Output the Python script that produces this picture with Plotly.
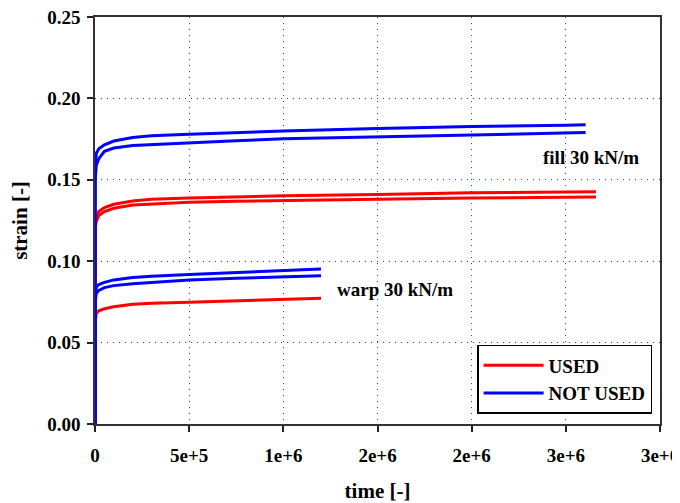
import plotly.graph_objects as go

# ---- data ----
t_fill = [0, 1e3, 7e3, 2e4, 5e4, 1e5, 2e5, 3e5, 5e5, 7.5e5, 1e6, 1.5e6, 2e6, 2.5e6]
fill_nu_a = [0, 0.155, 0.1663, 0.1690, 0.1715, 0.1738, 0.1760, 0.1770, 0.1780, 0.1790, 0.1800, 0.1815, 0.1828, 0.1835]
fill_nu_b = [0, 0.150, 0.1590, 0.1630, 0.1675, 0.1695, 0.1710, 0.1716, 0.1728, 0.1740, 0.1752, 0.1765, 0.1778, 0.1788]
t_fill_nu_end = 2.605e6
fill_nu_a_end = 0.1838
fill_nu_b_end = 0.1790

fill_u_a = [0, 0.122, 0.1270, 0.1305, 0.1330, 0.1350, 0.1370, 0.1380, 0.1388, 0.1395, 0.1402, 0.1410, 0.1420, 0.1425]
fill_u_b = [0, 0.120, 0.1245, 0.1280, 0.1305, 0.1325, 0.1345, 0.1352, 0.1362, 0.1368, 0.1373, 0.1380, 0.1388, 0.1392]
t_fill_u_end = 2.66e6
fill_u_a_end = 0.1427
fill_u_b_end = 0.1394

t_warp = [0, 1e3, 7e3, 2e4, 5e4, 1e5, 2e5, 3e5, 5e5, 7.5e5, 1e6, 1.2e6]
warp_nu_a = [0, 0.078, 0.0843, 0.0856, 0.0870, 0.0885, 0.0900, 0.0908, 0.0919, 0.0932, 0.0944, 0.0952]
warp_nu_b = [0, 0.075, 0.0803, 0.0820, 0.0838, 0.0850, 0.0862, 0.0870, 0.0885, 0.0895, 0.0905, 0.0911]
warp_u = [0, 0.063, 0.0680, 0.0695, 0.0708, 0.0720, 0.0735, 0.0741, 0.0748, 0.0757, 0.0766, 0.0772]

x_tickvals = [0, 5e5, 1e6, 1.5e6, 2e6, 2.5e6, 3e6]
x_ticktext = ["0", "5e+5", "1e+6", "2e+6", "2e+6", "3e+6", "3e+6"]
y_tickvals = [0, 0.05, 0.10, 0.15, 0.20, 0.25]
y_ticktext = ["0.00", "0.05", "0.10", "0.15", "0.20", "0.25"]

RED = "#ff0000"
BLUE = "#0000ff"
FONT = "Liberation Serif"

fig = go.Figure()

def add(x, y, color, name=None, show=False):
    fig.add_trace(go.Scatter(x=x, y=y, mode="lines", line=dict(color=color, width=3),
                             name=name, showlegend=show, legendgroup=name))

add(t_fill + [t_fill_u_end], fill_u_a + [fill_u_a_end], RED, "USED", True)
add(t_fill + [t_fill_u_end], fill_u_b + [fill_u_b_end], RED, "USED")
add(t_warp, warp_u, RED, "USED")
add(t_fill + [t_fill_nu_end], fill_nu_a + [fill_nu_a_end], BLUE, "NOT USED", True)
add(t_fill + [t_fill_nu_end], fill_nu_b + [fill_nu_b_end], BLUE, "NOT USED")
add(t_warp, warp_nu_a, BLUE, "NOT USED")
add(t_warp, warp_nu_b, BLUE, "NOT USED")

fig.add_annotation(x=2.636e6, y=0.1634, text="<b>fill 30 kN/m</b>", showarrow=False,
                   font=dict(family=FONT, size=19, color="black"))
fig.add_annotation(x=1.593e6, y=0.0827, text="<b>warp 30 kN/m</b>", showarrow=False,
                   font=dict(family=FONT, size=19, color="black"))

axis_common = dict(showline=True, linecolor="#333", linewidth=1.5, mirror=True,
                   ticks="outside", ticklen=6, tickcolor="#222", tickwidth=1.5,
                   showgrid=True, gridcolor="#444", griddash="1px,5px", gridwidth=1,
                   zeroline=False, automargin=False, ticklabeloverflow="allow",
                   tickfont=dict(family=FONT, size=19, color="black", weight="bold"))

fig.update_xaxes(range=[0, 3e6], tickvals=x_tickvals,
                 ticktext=["<b>%s</b>" % s for s in x_ticktext],
                 ticklabelstandoff=7,
                 title=dict(text="<b>time [-]</b>", font=dict(family=FONT, size=21, color="black"),
                            standoff=24),
                 **axis_common)
fig.update_yaxes(range=[0, 0.25], tickvals=y_tickvals,
                 ticktext=["<b>%s</b>" % s for s in y_ticktext],
                 ticklabelstandoff=3,
                 title=dict(text="<b>strain [-]</b>", font=dict(family=FONT, size=21, color="black"),
                            standoff=18),
                 **axis_common)

# the page adds an 8px body margin; the figure is sized to fit the window with it
fig.update_layout(
    width=672, height=495,
    margin=dict(l=87, r=20, t=9, b=79),
    paper_bgcolor="white", plot_bgcolor="white",
    legend=dict(x=0.986, y=0.025, xanchor="right", yanchor="bottom",
                bgcolor="white", bordercolor="black", borderwidth=1.5,
                font=dict(family=FONT, size=19, color="black", weight="bold"),
                tracegroupgap=0, itemwidth=60),
)

fig.write_html("out.html")
